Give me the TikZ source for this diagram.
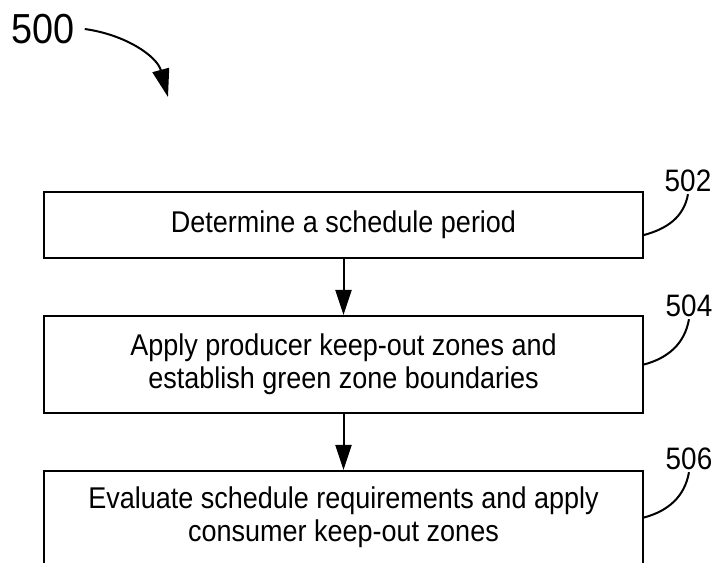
\documentclass[tikz,border=0pt]{standalone}
\usepackage{fontspec}
\setmainfont[FakeStretch=0.9]{Liberation Sans}
\usetikzlibrary{arrows.meta}
\usetikzlibrary{positioning}
\newcommand{\refLabel}[3]{%%
  \node[labelStyle] (#1) at (#2) {#3};
}
\newcommand{\leaderLine}[2]{%%
  %% A curved leader from the label down to the box.
  \draw[leaderStyle] (#1.south) to[out=-100,in=15] (#2);
}

\begin{document}
\begin{tikzpicture}[%%
  x=1pt,y=1pt,%%
  node distance=56pt,%%
  boxStyle/.style={draw,line width=2pt,minimum width=599pt,align=center,inner sep=0pt,font=\fontsize{30}{33}\selectfont},%%
  arrowStyle/.style={-{Triangle[length=25pt,width=16pt]},line width=2pt},%%
  leaderStyle/.style={-,line width=2pt},%%
  labelStyle/.style={inner sep=2pt,font=\fontsize{31}{31}\selectfont},%%
  figureArrowStyle/.style={-{Triangle[length=28pt,width=17pt]},line width=2pt}%%
]
%%
%%
\useasboundingbox (0,0) rectangle (716,563);
%% The figure number and its arrow.
\node[labelStyle,font=\fontsize{42}{42}\selectfont] (figLabel) at (43,534) {500};
\coordinate (figTip) at (168,466);
\draw[figureArrowStyle] ([xshift=8pt]figLabel.east) to[out=-8,in=105] (figTip);
%% The three steps.
\node[boxStyle,minimum height=66pt] (schedule) at (343.5,338) {Determine a schedule period};
\node[boxStyle,minimum height=97pt,below=of schedule] (producer) {Apply producer keep-out zones and\\establish green zone boundaries};
\node[boxStyle,minimum height=93pt,below=of producer] (consumer) {Evaluate schedule requirements and apply\\consumer keep-out zones};
\draw[arrowStyle] (schedule) -- (producer);
\draw[arrowStyle] (producer) -- (consumer);
%% Reference numerals.
\refLabel{label502}{688,382}{502}
\refLabel{label504}{689,257}{504}
\refLabel{label506}{689,104}{506}
\leaderLine{label502}{[yshift=-10pt]schedule.east}
\leaderLine{label504}{producer.east}
\leaderLine{label506}{consumer.east}
\end{tikzpicture}
\end{document}
